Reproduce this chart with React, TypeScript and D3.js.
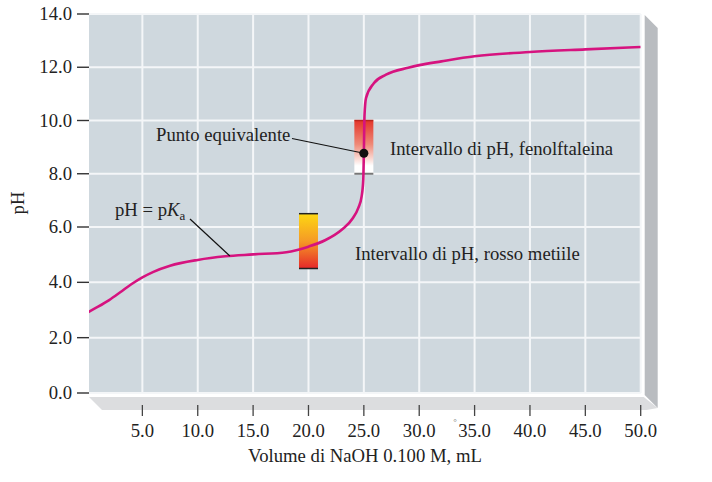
import React from "react";
import * as d3 from "d3";

// Titration curve values
const volumes = [0, 1, 2, 3, 4, 5, 6, 7.5, 10, 12.5, 15, 18, 20, 21.5, 23, 24, 24.5, 24.8, 24.95, 25, 25.06, 25.2, 25.9, 27, 29, 30, 32, 35, 40, 45, 50];
const pHValues = [2.9, 3.12, 3.36, 3.64, 3.93, 4.18, 4.38, 4.6, 4.81, 4.94, 5.01, 5.09, 5.29, 5.52, 5.9, 6.33, 6.72, 7.15, 7.8, 8.77, 10.2, 10.85, 11.4, 11.72, 11.98, 12.08, 12.22, 12.41, 12.57, 12.67, 12.76];

const xTicks = [5, 10, 15, 20, 25, 30, 35, 40, 45, 50];
const yTicks = [0, 2, 4, 6, 8, 10, 12, 14];

const indicatorNames = ["fenolftaleina", "rosso metiile"];
const indicatorLow = [8, 4.5];
const indicatorHigh = [10, 6.5];
const indicatorVolume = [25, 20];

const equivalenceVolume = 25;
const equivalencePH = 8.77;
const pKaVolume = 12.9;

const FONT = "'Liberation Serif', 'Times New Roman', serif";
const FS = 18.7;

export default function App() {
  const W = 712, H = 482;
  const x = d3.scaleLinear().domain([0, 50]).range([87, 640.7]);
  const y = d3.scaleLinear().domain([0, 6, 14]).range([393, 227, 14]);
  const left = 89, right = x(50), top = y(14), bottom = y(0);

  const pts: [number, number][] = volumes.map((v, i) => [v, pHValues[i]]);
  const line = d3
    .line<[number, number]>()
    .x((d) => x(d[0]))
    .y((d) => y(d[1]))
    .curve(d3.curveMonotoneX);

  const pKaPH = (() => {
    const i = volumes.findIndex((v) => v >= pKaVolume);
    const t = (pKaVolume - volumes[i - 1]) / (volumes[i] - volumes[i - 1]);
    return pHValues[i - 1] + t * (pHValues[i] - pHValues[i - 1]);
  })();

  const barW = 19;
  const ex = x(equivalenceVolume), ey = y(equivalencePH);

  return (
    <svg width={W} height={H} style={{ display: "block", position: "absolute", left: 0, top: 0 }} fontFamily={FONT}>
      <defs>
        <linearGradient id="g0" x1="0" y1="0" x2="0" y2="1">
          <stop offset="0" stopColor="#e3352a" />
          <stop offset="0.45" stopColor="#ef8a78" />
          <stop offset="0.85" stopColor="#ffffff" />
          <stop offset="1" stopColor="#ffffff" />
        </linearGradient>
        <linearGradient id="g1" x1="0" y1="0" x2="0" y2="1">
          <stop offset="0" stopColor="#fdd712" />
          <stop offset="0.5" stopColor="#f59a26" />
          <stop offset="1" stopColor="#e6282a" />
        </linearGradient>
        <clipPath id="plotclip">
          <rect x={left} y={top} width={right - left} height={bottom - top} />
        </clipPath>
      </defs>
      <rect x={0} y={0} width={W} height={H} fill="#ffffff" />
      {/* 3D wall & floor */}
      <polygon points={`${right + 4},${top + 1} ${right + 17},${top + 14} ${right + 17},${bottom + 15} ${right + 4},${bottom + 2}`} fill="#b9bcc0" />
      <polygon points={`${left},${bottom + 4} ${right + 3},${bottom + 4} ${right + 17},${bottom + 15} ${right + 6},${bottom + 17} ${left + 13},${bottom + 17}`} fill="#dcdddf" />
      {/* plot background */}
      <rect x={left} y={top} width={right - left} height={bottom - top} fill="#cfd8de" />
      {/* grid */}
      {xTicks.map((t) => (
        <line key={"gx" + t} x1={x(t)} x2={x(t)} y1={top} y2={bottom} stroke="#f4f6f8" strokeWidth={2} />
      ))}
      {yTicks.map((t) => (
        <line key={"gy" + t} x1={left} x2={right} y1={y(t)} y2={y(t)} stroke="#f4f6f8" strokeWidth={2} />
      ))}
      {/* y axis ticks & labels */}
      {yTicks.map((t) => (
        <g key={"yt" + t}>
          <line x1={77} x2={89} y1={y(t)} y2={y(t)} stroke="#333" strokeWidth={1.4} />
          <text x={72} y={y(t) + 6} textAnchor="end" fontSize={FS} fill="#222">
            {t.toFixed(1)}
          </text>
        </g>
      ))}
      {/* x axis ticks & labels */}
      {xTicks.map((t) => (
        <g key={"xt" + t}>
          <line x1={x(t)} x2={x(t)} y1={405} y2={416} stroke="#444" strokeWidth={1.3} />
          <text x={x(t)} y={437} textAnchor="middle" fontSize={FS} fill="#222">
            {t.toFixed(1)}
          </text>
        </g>
      ))}
      <text x={455} y={425} fontSize={9} fill="#777" textAnchor="middle">°</text>
      <text x={365} y={462} textAnchor="middle" fontSize={FS} fill="#222">
        Volume di NaOH 0.100 M, mL
      </text>
      <text transform={`translate(24,203) rotate(-90)`} textAnchor="middle" fontSize={FS} fill="#222">
        pH
      </text>
      {/* indicator bars */}
      {indicatorNames.map((n, i) => {
        const cx = x(indicatorVolume[i]);
        const y0 = y(indicatorHigh[i]);
        const y1 = y(indicatorLow[i]);
        return (
          <g key={n}>
            <rect x={cx - barW / 2} y={y0} width={barW} height={y1 - y0} fill={`url(#g${i})`} />
            <line x1={cx - barW / 2} x2={cx + barW / 2} y1={y0} y2={y0} stroke={i === 0 ? "#b8261e" : "#222"} strokeWidth={1.5} />
            <line x1={cx - barW / 2} x2={cx + barW / 2} y1={y1} y2={y1} stroke={i === 0 ? "#777" : "#222"} strokeWidth={i === 0 ? 2 : 1.5} />
          </g>
        );
      })}
      {/* curve */}
      <path d={line(pts) || ""} fill="none" stroke="#d6137f" strokeWidth={2.6} clipPath="url(#plotclip)" />
      {/* equivalence point */}
      <line x1={292} y1={138.5} x2={ex} y2={ey} stroke="#111" strokeWidth={1.2} />
      <circle cx={ex} cy={ey} r={4.5} fill="#111" />
      <text x={156} y={141} fontSize={FS} fill="#222">Punto equivalente</text>
      {/* pKa */}
      <line x1={190} y1={219} x2={x(pKaVolume)} y2={y(pKaPH)} stroke="#111" strokeWidth={1.2} />
      <text x={115} y={216} fontSize={FS} fill="#222">
        pH = p<tspan fontStyle="italic">K</tspan>
        <tspan fontSize={13} dy={4}>a</tspan>
      </text>
      {/* indicator labels */}
      <text x={390} y={155} fontSize={FS} fill="#222">Intervallo di pH, {indicatorNames[0]}</text>
      <text x={355} y={260} fontSize={FS} fill="#222">Intervallo di pH, {indicatorNames[1]}</text>
    </svg>
  );
}
